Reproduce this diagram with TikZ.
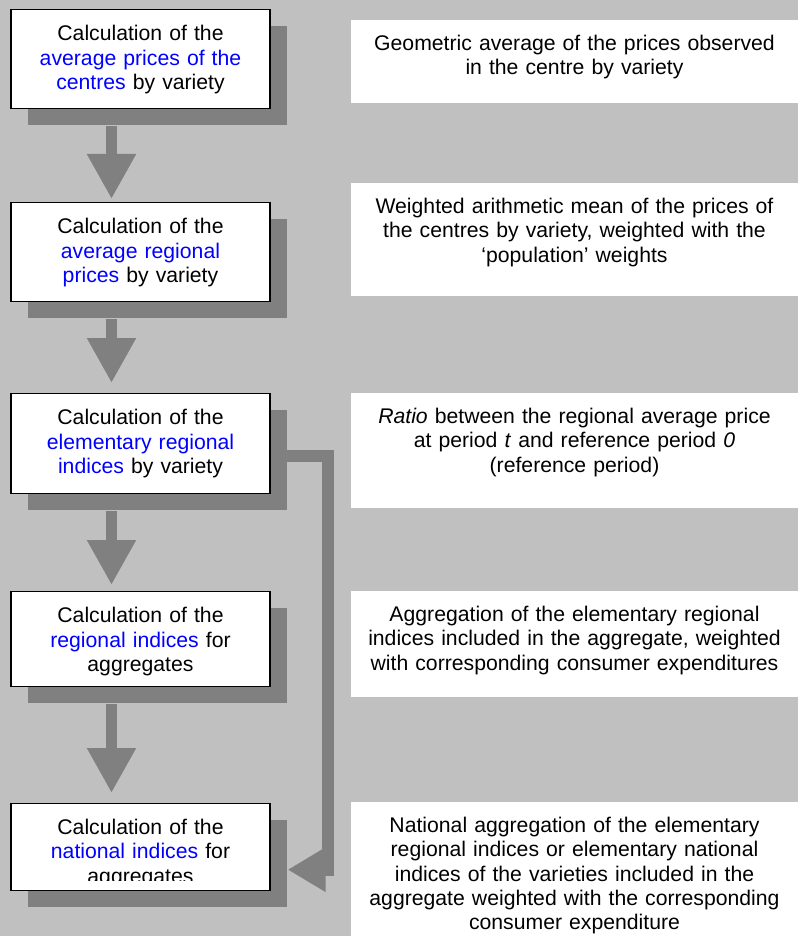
\documentclass[tikz,border=0pt]{standalone}
\usepackage{fontspec}
\setmainfont{Liberation Sans}
\usetikzlibrary{arrows.meta,shadows}

\definecolor{bggray}{HTML}{C0C0C0}
\definecolor{flowgray}{HTML}{808080}
\definecolor{keyblue}{HTML}{0000FF}

\tikzset{
	calctext/.style={text width=259pt, align=center, inner sep=0pt, text height=31pt, anchor=north, font=\fontsize{21.2pt}{24.5pt}\selectfont},
	calcbox/.style={calctext, draw=black, line width=1.3pt, fill=white, drop shadow={shadow xshift=16.5pt, shadow yshift=-16.5pt, fill=flowgray, opacity=1}},
	descbox/.style={fill=white, text width=447pt, align=center, inner sep=0pt, text height=30pt, anchor=north, font=\fontsize{21.2pt}{24.4pt}\selectfont},
	flow/.style={draw=flowgray, line width=11.5pt, -{Triangle[length=45pt,width=46pt]}},
	feedback/.style={draw=flowgray, line width=12pt, line join=miter, -{Triangle[length=38pt,width=42pt]}}
}

\begin{document}
\begin{tikzpicture}[x=1pt,y=-1pt]
	\useasboundingbox (0,0) rectangle (798,936);
	\fill[bggray] (0,0) rectangle (798,936);

	\node[calcbox, text depth=68pt] (centres) at (140.5,9) {Calculation of the\\ {\color{keyblue}average prices of the}\\ {\color{keyblue}centres} by variety};
	\node[calcbox, text depth=68pt] (regional) at (140.5,202) {Calculation of the\\ {\color{keyblue}average regional}\\ {\color{keyblue}prices} by variety};
	\node[calcbox, text depth=69pt] (elem) at (140.5,393) {Calculation of the\\ {\color{keyblue}elementary regional}\\ {\color{keyblue}indices} by variety};
	\node[calcbox, text depth=64pt] (regind) at (140.5,591) {Calculation of the\\ {\color{keyblue}regional indices} for\\ aggregates};
	\node[calcbox, text depth=56pt] (nat) at (140.5,803) {};
	\begin{scope}
		\clip (nat.north west) rectangle ([yshift=11pt]nat.south east);
		\node[calctext] (natText) at (140.5,803) {Calculation of the\\ {\color{keyblue}national indices} for\\ aggregates};
	\end{scope}

	\node[descbox, text depth=53pt] (geoDesc) at (574.5,20) {Geometric average of the prices observed\\ in the centre by variety};
	\node[descbox, text depth=83pt] (meanDesc) at (574.5,183) {Weighted arithmetic mean of the prices of\\ the centres by variety, weighted with the\\ `population' weights};
	\node[descbox, text depth=85pt] (ratioDesc) at (574.5,393) {\textit{Ratio} between the regional average price\\ at period \textit{t} and reference period \textit{0}\\ (reference period)};
	\node[descbox, text depth=76pt] (aggDesc) at (574.5,591) {Aggregation of the elementary regional\\ indices included in the aggregate, weighted\\ with corresponding consumer expenditures};
	\node[descbox, text depth=104pt] (natDesc) at (574.5,802) {National aggregation of the elementary\\ regional indices or elementary national\\ indices of the varieties included in the\\ aggregate weighted with the corresponding\\ consumer expenditure};

	\draw[flow, shorten >=3pt] ([xshift=-29pt,yshift=-16.5pt]centres.south) -- ([xshift=-29pt]regional.north);
	\draw[flow, shorten >=10pt] ([xshift=-29pt,yshift=-16.5pt]regional.south) -- ([xshift=-29pt]elem.north);
	\draw[flow, shorten >=6pt] ([xshift=-29pt,yshift=-16.5pt]elem.south) -- ([xshift=-29pt]regind.north);
	\draw[flow, shorten >=10pt] ([xshift=-29pt,yshift=-16.5pt]regind.south) -- ([xshift=-29pt]nat.north);
	\draw[feedback] ([yshift=-12.5pt]elem.east) -- ++(57pt,0) |- ([xshift=17pt,yshift=-22.5pt]nat.east);
\end{tikzpicture}
\end{document}
